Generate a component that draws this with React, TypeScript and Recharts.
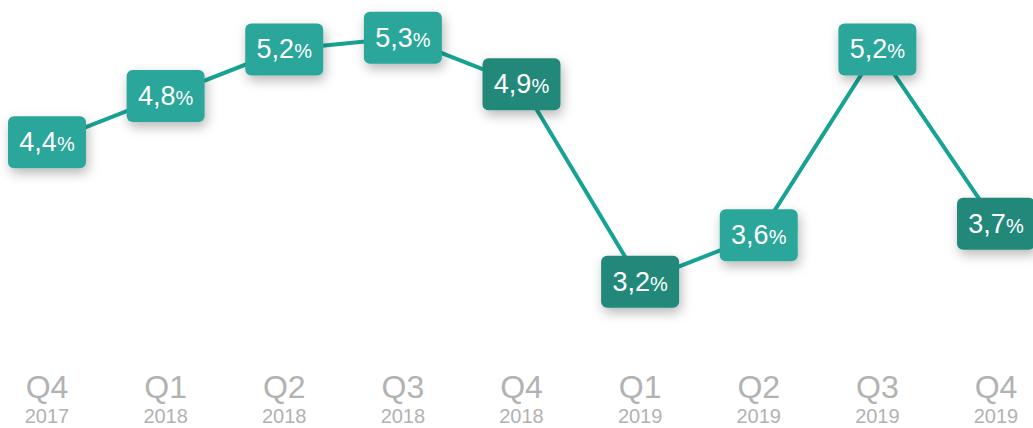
import React from 'react';
import { LineChart, Line, XAxis, YAxis } from 'recharts';

const quarters = ['Q4', 'Q1', 'Q2', 'Q3', 'Q4', 'Q1', 'Q2', 'Q3', 'Q4'];
const years = ['2017', '2018', '2018', '2018', '2018', '2019', '2019', '2019', '2019'];
const rates = [4.4, 4.8, 5.2, 5.3, 4.9, 3.2, 3.6, 5.2, 3.7];

const data = rates.map((rate, i) => ({
  name: `${quarters[i]} ${years[i]}`,
  quarter: quarters[i],
  year: years[i],
  rate,
}));

const LIGHT = '#2aa69a';
const DARK = '#20897a';
const LINE = '#17a394';

const fmt = (v: number) => v.toFixed(1).replace('.', ',');

const ValueBox = (props: any) => {
  const { cx, cy, index, payload } = props;
  if (cx == null || cy == null) return null;
  const prev = index > 0 ? rates[index - 1] : payload.rate;
  const fill = payload.rate < prev ? DARK : LIGHT;
  const w = 78;
  const h = 52;
  return (
    <g key={`box-${index}`}>
      <rect
        x={cx - w / 2}
        y={cy - h / 2}
        width={w}
        height={h}
        rx={6}
        ry={6}
        fill={fill}
        filter="url(#boxShadow)"
      />
      <text
        x={cx}
        y={cy + 9}
        textAnchor="middle"
        fill="#fff"
        fontFamily="Liberation Sans, Arial, sans-serif"
        fontSize={27}
      >
        {fmt(payload.rate)}
        <tspan fontSize={20}>%</tspan>
      </text>
    </g>
  );
};

const QuarterTick = (props: any) => {
  const { x, y, index } = props;
  return (
    <g>
      <text
        x={x}
        y={y + 27}
        textAnchor="middle"
        fill="#b2b2b2"
        fontFamily="Liberation Sans, Arial, sans-serif"
        fontSize={32}
      >
        {quarters[index]}
      </text>
      <text
        x={x}
        y={y + 52}
        textAnchor="middle"
        fill="#b2b2b2"
        fontFamily="Liberation Sans, Arial, sans-serif"
        fontSize={20}
      >
        {years[index]}
      </text>
    </g>
  );
};

export default function App() {
  return (
    <div style={{ position: 'absolute', left: 0, top: 0, width: 1033, height: 428, background: '#fff' }}>
      <LineChart
        width={1033}
        height={428}
        data={data}
        margin={{ top: 3, right: 37, left: 47, bottom: 0 }}
      >
        <defs>
          <filter id="boxShadow" x="-30%" y="-30%" width="170%" height="190%">
            <feDropShadow dx={2} dy={5} stdDeviation={6} floodColor="#000" floodOpacity={0.28} />
          </filter>
        </defs>
        <XAxis
          dataKey="name"
          axisLine={false}
          tickLine={false}
          interval={0}
          height={65}
          tick={<QuarterTick />}
        />
        <YAxis hide domain={[2.5, 5.6]} />
        <Line
          type="linear"
          dataKey="rate"
          stroke={LINE}
          strokeWidth={4}
          dot={(p: any) => <ValueBox {...p} />}
          activeDot={false}
          isAnimationActive={false}
        />
      </LineChart>
    </div>
  );
}
